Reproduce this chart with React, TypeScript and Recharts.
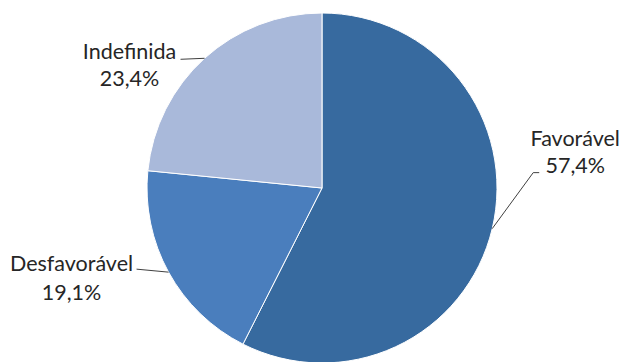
import { PieChart, Pie, Cell } from "recharts";

const categories = ["Favorável", "Desfavorável", "Indefinida"];
const shares = [57.4, 19.1, 23.4];
const sliceColors = ["#376a9f", "#4a7ebd", "#a9b9da"];

const data = categories.map((name, i) => ({ name, value: shares[i] }));

// leader line elbow + text placement per slice (relative to the slice edge point)
const LABEL_LAYOUT = [
  { ex: 41, ey: -56, tail: 6, tx: 36, l1: -27, l2: 0 },
  { ex: -32, ey: -3, tail: 0, tx: -65, l1: 2, l2: 31 },
  { ex: -24, ey: 1, tail: 0, tx: -51, l1: 0, l2: 27 },
];

const FONT = "Lato, 'Open Sans', sans-serif";
const RAD = Math.PI / 180;

function renderLabel(props: any) {
  const { cx, cy, midAngle, outerRadius, index, name, value } = props;
  const lay = LABEL_LAYOUT[index];
  const x0 = cx + outerRadius * Math.cos(-midAngle * RAD);
  const y0 = cy + outerRadius * Math.sin(-midAngle * RAD);
  const x1 = x0 + lay.ex;
  const y1 = y0 + lay.ey;
  const x2 = x1 + lay.tail;
  const tx = x2 + lay.tx;
  return (
    <g>
      <polyline
        points={`${x0},${y0} ${x1},${y1} ${x2},${y1}`}
        fill="none"
        stroke="#404040"
        strokeWidth={1}
      />
      <text x={tx} y={y1 + lay.l1} textAnchor="middle" fill="#262626" fontSize={21.5} fontFamily={FONT}>
        {name}
      </text>
      <text x={tx} y={y1 + lay.l2} textAnchor="middle" fill="#262626" fontSize={21.5} fontFamily={FONT}>
        {value.toFixed(1).replace(".", ",")}%
      </text>
    </g>
  );
}

export default function App() {
  return (
    <div style={{ position: "absolute", left: 0, top: 0, width: 624, height: 362, background: "#fff" }}>
      <PieChart width={624} height={362} margin={{ top: 0, right: 0, bottom: 0, left: 0 }}>
        <Pie
          data={data}
          dataKey="value"
          nameKey="name"
          cx={322}
          cy={188}
          outerRadius={175}
          startAngle={90}
          endAngle={-270}
          stroke="#fff"
          strokeWidth={1}
          label={renderLabel}
          labelLine={false}
          isAnimationActive={false}
        >
          {data.map((_, i) => (
            <Cell key={i} fill={sliceColors[i]} />
          ))}
        </Pie>
      </PieChart>
    </div>
  );
}
